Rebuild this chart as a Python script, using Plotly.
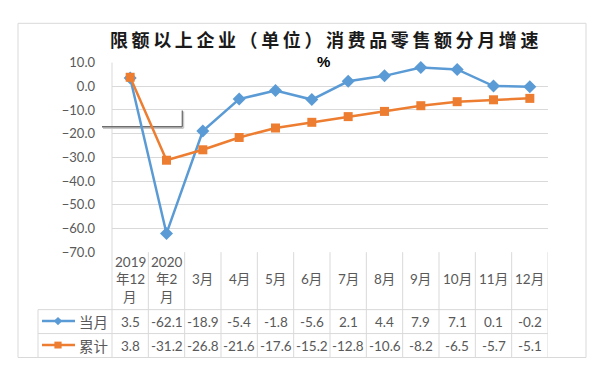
import plotly.graph_objects as go

# ---------------- data ----------------
header_lines = [
    ["2019", "年12", "月"],
    ["2020", "年2", "月"],
    ["3月"], ["4月"], ["5月"], ["6月"], ["7月"], ["8月"],
    ["9月"], ["10月"], ["11月"], ["12月"],
]
series_names = ["当月", "累计"]
monthly = [3.5, -62.1, -18.9, -5.4, -1.8, -5.6, 2.1, 4.4, 7.9, 7.1, 0.1, -0.2]
cumulative = [3.8, -31.2, -26.8, -21.6, -17.6, -15.2, -12.8, -10.6, -8.2, -6.5, -5.7, -5.1]
title_text = "限额以上企业（单位）消费品零售额分月增速"
unit_text = "%"

# ---------------- layout helpers ----------------
W, H = 600, 377


def PX(x):
    return x / W


def PY(y):
    return 1 - y / H


BLUE = "#5B9BD5"
ORANGE = "#ED7D31"
GRID = "#D9D9D9"
TXT = "#595959"
FONT = "Lato, Noto Sans CJK SC, sans-serif"
CJK = "Noto Sans CJK SC, sans-serif"

n = len(monthly)
xs = list(range(n))

fig = go.Figure()
fig.add_trace(go.Scatter(
    x=xs, y=monthly, name=series_names[0], mode="lines+markers",
    line=dict(color=BLUE, width=2.5),
    marker=dict(symbol="diamond", size=10, color=BLUE),
    cliponaxis=False, showlegend=False,
))
fig.add_trace(go.Scatter(
    x=xs, y=cumulative, name=series_names[1], mode="lines+markers",
    line=dict(color=ORANGE, width=2.5),
    marker=dict(symbol="square", size=9, color=ORANGE),
    cliponaxis=False, showlegend=False,
))

shapes = []


def hline(y, x0, x1, color=GRID, width=1):
    shapes.append(dict(type="line", xref="paper", yref="paper",
                       x0=PX(x0), x1=PX(x1), y0=PY(y), y1=PY(y),
                       line=dict(color=color, width=width), layer="below"))


def vline(x, y0, y1, color=GRID, width=1):
    shapes.append(dict(type="line", xref="paper", yref="paper",
                       x0=PX(x), x1=PX(x), y0=PY(y0), y1=PY(y1),
                       line=dict(color=color, width=width), layer="below"))


# chart border
shapes.append(dict(type="rect", xref="paper", yref="paper",
                   x0=PX(18), x1=PX(586), y0=PY(365), y1=PY(16),
                   line=dict(color=GRID, width=1), layer="below"))
# plot-area left edge down through the table
vline(112, 57, 365)
# table rows
for yy in (315, 340, 365):
    hline(yy, 38, 548)
vline(38, 315, 365)
# table column separators (on category axis)
for k in range(n):
    shapes.append(dict(type="line", xref="x", yref="paper",
                       x0=k + 0.5, x1=k + 0.5, y0=PY(255), y1=PY(365),
                       line=dict(color=GRID, width=1), layer="below"))

# stray bracket artefact with its shadow
vline(183.5, 108, 125.5, color="#C8C8C8", width=1.5)
hline(125.5, 103, 183.5, color="#C8C8C8", width=1.5)
vline(182.3, 107, 124, color="#6E6E6E", width=1.3)
hline(124, 102, 182.3, color="#6E6E6E", width=1.3)

# legend keys inside the table
hline(327, 42, 75, color=BLUE, width=2.5)
hline(352, 42, 75, color=ORANGE, width=2.5)
cx, cy, r = 58, 327, 4.2
shapes.append(dict(type="path", xref="paper", yref="paper",
                   path=f"M {PX(cx - r)} {PY(cy)} L {PX(cx)} {PY(cy - r)} L {PX(cx + r)} {PY(cy)} L {PX(cx)} {PY(cy + r)} Z",
                   fillcolor=BLUE, line=dict(color=BLUE, width=0)))
s = 3.6
shapes.append(dict(type="rect", xref="paper", yref="paper",
                   x0=PX(58 - s), x1=PX(58 + s), y0=PY(352 + s), y1=PY(352 - s),
                   fillcolor=ORANGE, line=dict(color=ORANGE, width=0)))

annotations = []
# title
annotations.append(dict(
    text="\u2009".join(title_text), xref="paper", yref="paper",
    x=PX(324), y=PY(32), xanchor="center", yanchor="middle", showarrow=False,
    font=dict(family=CJK, size=18, color="#1A1A1A", weight="bold"),
))
annotations.append(dict(
    text=unit_text, xref="paper", yref="paper",
    x=PX(323), y=PY(56), xanchor="center", yanchor="middle", showarrow=False,
    font=dict(family="Liberation Sans, Arial", size=15, color="#000000", weight="bold"),
    bgcolor="white", borderpad=1,
))
# header cells
for i, lines in enumerate(header_lines):
    if len(lines) == 3:
        ys = [265, 283.5, 302]
    else:
        ys = [283.5]
    for ln, yy in zip(lines, ys):
        annotations.append(dict(
            text=ln, xref="x", yref="paper", x=i, y=PY(yy),
            xanchor="center", yanchor="middle", showarrow=False,
            font=dict(family=FONT, size=13.5, color=TXT),
        ))
# value rows
for row_vals, yy in ((monthly, 327.5), (cumulative, 352.5)):
    for i, v in enumerate(row_vals):
        annotations.append(dict(
            text=f"{v:.1f}", xref="x", yref="paper", x=i, y=PY(yy),
            xanchor="center", yanchor="middle", showarrow=False,
            font=dict(family=FONT, size=13.5, color=TXT),
        ))
# row labels
for name, yy in zip(series_names, (327, 352)):
    annotations.append(dict(
        text=name, xref="paper", yref="paper", x=PX(77), y=PY(yy),
        xanchor="left", yanchor="middle", showarrow=False,
        font=dict(family=CJK, size=14.5, color=TXT),
    ))

fig.update_layout(
    width=W, height=H,
    margin=dict(l=0, r=0, t=0, b=0),
    paper_bgcolor="white", plot_bgcolor="white",
    shapes=shapes, annotations=annotations,
    xaxis=dict(domain=[PX(112), PX(548)], range=[-0.5, n - 0.5],
               showticklabels=False, showgrid=False, zeroline=False,
               showline=False, ticks=""),
    yaxis=dict(domain=[PY(255), PY(57)], range=[-70, 10], dtick=10,
               tickformat=".1f", showgrid=True, gridcolor=GRID, gridwidth=1,
               zeroline=False, showline=False, ticks="",
               ticklabelstandoff=16,
               tickfont=dict(family=FONT, size=13, color=TXT)),
)

fig.write_html(
    "out.html",
    config={"displayModeBar": False},
    post_script="document.body.style.margin='0';document.body.style.overflow='hidden';",
)
